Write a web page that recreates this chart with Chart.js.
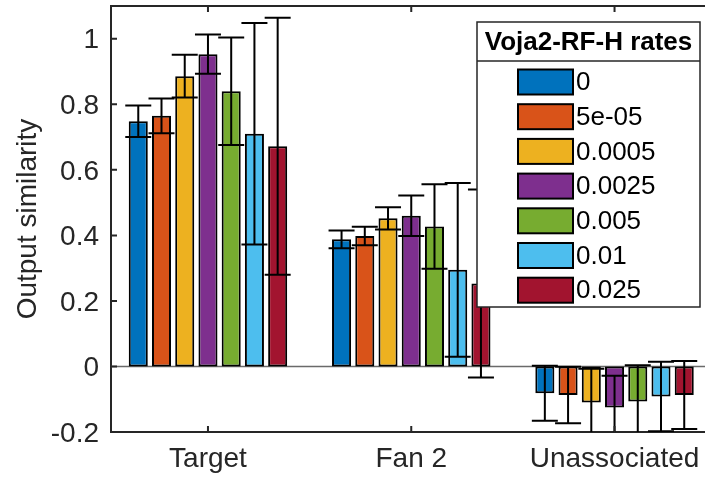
<!DOCTYPE html>
<html>
<head>
<meta charset="utf-8">
<script src="https://cdn.jsdelivr.net/npm/chart.js@4.4.0/dist/chart.umd.min.js"></script>
<style>
    html, body { margin: 0; padding: 0; background: #fff; overflow: hidden; }
    canvas { display: block; }
</style>
</head>
<body>
<canvas id="myChart" width="705" height="477"></canvas>
<script>
// groups on the x axis
const categories = ['Target', 'Fan 2', 'Unassociated'];

// Voja2-RF-H learning rates (one bar per rate inside each group)
const rates = ['0', '5e-05', '0.0005', '0.0025', '0.005', '0.01', '0.025'];
const rateColors = ['#0072BD', '#D95319', '#EDB120', '#7E2F8E', '#77AC30', '#4DBEEE', '#A2142F'];

// mean output similarity, ordered by rate
const targetMean   = [0.748, 0.765, 0.886, 0.953, 0.840, 0.710, 0.672];
const fan2Mean     = [0.388, 0.398, 0.452, 0.460, 0.427, 0.295, 0.253];
const unassocMean  = [-0.082, -0.087, -0.110, -0.125, -0.107, -0.092, -0.087];

// half length of the error bars, ordered by rate
const targetErr    = [0.048, 0.053, 0.065, 0.060, 0.164, 0.338, 0.392];
const fan2Err      = [0.027, 0.028, 0.034, 0.062, 0.129, 0.265, 0.287];
const unassocErr   = [0.084, 0.086, 0.103, 0.097, 0.111, 0.106, 0.104];

const yTicks = [-0.2, 0, 0.2, 0.4, 0.6, 0.8, 1];

const FONT = '"Liberation Sans", Arial, Helvetica, sans-serif';
const INK = '#262626';

// one dataset per rate
const datasets = rates.map((rate, i) => ({
    label: rate,
    data: [targetMean[i], fan2Mean[i], unassocMean[i]].map((v, k) => ({ x: k + 1, y: v })),
    errors: [targetErr[i], fan2Err[i], unassocErr[i]],
    backgroundColor: rateColors[i],
    borderColor: '#000',
    borderWidth: 2,
    borderSkipped: false,
    barPercentage: 0.82,
    categoryPercentage: 0.8
}));

// baseline at zero, error bars, inward ticks and top spine
const axesDecor = {
    id: 'axesDecor',
    beforeDatasetsDraw(chart) {
        const { ctx, chartArea: a, scales: { y } } = chart;
        const y0 = y.getPixelForValue(0);
        ctx.save();
        ctx.strokeStyle = '#6a6a6a';
        ctx.lineWidth = 1.5;
        ctx.beginPath();
        ctx.moveTo(a.left, y0);
        ctx.lineTo(a.right, y0);
        ctx.stroke();
        ctx.restore();
    },
    afterDatasetsDraw(chart) {
        const { ctx, chartArea: a, scales: { x, y } } = chart;
        ctx.save();
        ctx.beginPath();
        ctx.rect(a.left, a.top, a.right - a.left, a.bottom - a.top);
        ctx.clip();
        ctx.strokeStyle = '#000';
        ctx.lineWidth = 2;
        chart.data.datasets.forEach((ds, i) => {
            chart.getDatasetMeta(i).data.forEach((bar, k) => {
                const v = ds.data[k].y, e = ds.errors[k];
                const hi = y.getPixelForValue(v + e);
                const lo = y.getPixelForValue(v - e);
                ctx.beginPath();
                ctx.moveTo(bar.x, hi); ctx.lineTo(bar.x, lo);
                ctx.moveTo(bar.x - 13, hi); ctx.lineTo(bar.x + 13, hi);
                ctx.moveTo(bar.x - 13, lo); ctx.lineTo(bar.x + 13, lo);
                ctx.stroke();
            });
        });
        ctx.restore();

        ctx.save();
        ctx.strokeStyle = INK;
        ctx.lineWidth = 2;
        ctx.beginPath();
        ctx.moveTo(a.left, a.top);
        ctx.lineTo(a.right, a.top);
        yTicks.forEach(v => {
            const py = y.getPixelForValue(v);
            ctx.moveTo(a.left, py);
            ctx.lineTo(a.left + 6, py);
        });
        categories.forEach((c, k) => {
            const px = x.getPixelForValue(k + 1);
            ctx.moveTo(px, a.bottom); ctx.lineTo(px, a.bottom - 6);
            ctx.moveTo(px, a.top); ctx.lineTo(px, a.top + 6);
        });
        ctx.stroke();
        ctx.restore();
    }
};

// boxed legend with title, drawn over the plot
const boxLegend = {
    id: 'boxLegend',
    afterDraw(chart) {
        const ctx = chart.ctx;
        const bx = 477, by = 22, bw = 223, bh = 285, titleH = 39;
        ctx.save();
        ctx.fillStyle = '#fff';
        ctx.fillRect(bx, by, bw, bh);
        ctx.strokeStyle = INK;
        ctx.lineWidth = 1.5;
        ctx.strokeRect(bx, by, bw, bh);
        ctx.beginPath();
        ctx.moveTo(bx, by + titleH);
        ctx.lineTo(bx + bw, by + titleH);
        ctx.stroke();

        ctx.fillStyle = '#000';
        ctx.textBaseline = 'middle';
        ctx.textAlign = 'center';
        ctx.font = 'bold 26px ' + FONT;
        ctx.fillText('Voja2-RF-H rates', bx + bw / 2, by + titleH / 2 + 1);

        ctx.textAlign = 'left';
        ctx.font = '26px ' + FONT;
        chart.data.datasets.forEach((ds, i) => {
            const cy = by + 60 + i * 34.7;
            ctx.fillStyle = ds.backgroundColor;
            ctx.fillRect(518, cy - 12.5, 55, 25);
            ctx.strokeStyle = '#000';
            ctx.lineWidth = 2;
            ctx.strokeRect(518, cy - 12.5, 55, 25);
            ctx.fillStyle = '#000';
            ctx.fillText(ds.label, 576, cy + 1);
        });
        ctx.restore();
    }
};

// keep the plot box fixed, no extra room for edge labels
const noEdgePadding = scale => {
    scale.paddingTop = 0;
    scale.paddingBottom = 0;
    scale.paddingLeft = 0;
    scale.paddingRight = 0;
};

const config = {
    type: 'bar',
    data: { datasets },
    options: {
        responsive: false,
        animation: false,
        devicePixelRatio: 1,
        layout: { padding: { top: 6, right: 0, left: 0, bottom: 0 } },
        plugins: {
            legend: { display: false },
            tooltip: { enabled: false }
        },
        scales: {
            x: {
                type: 'linear',
                min: 0.523,
                max: 3.445,
                offset: false,
                grid: { display: false, drawTicks: false, offset: false },
                border: { display: true, color: INK, width: 2 },
                afterBuildTicks: scale => { scale.ticks = categories.map((c, k) => ({ value: k + 1 })); },
                afterFit: scale => { scale.height = 45; noEdgePadding(scale); },
                ticks: {
                    autoSkip: false,
                    maxRotation: 0,
                    padding: 10,
                    color: INK,
                    font: { family: FONT, size: 28 },
                    callback: v => categories[v - 1]
                }
            },
            y: {
                min: -0.2,
                max: 1.1,
                grid: { display: false, drawTicks: false },
                border: { display: true, color: INK, width: 2 },
                afterBuildTicks: scale => { scale.ticks = yTicks.map(v => ({ value: v })); },
                afterFit: scale => { scale.width = 111; noEdgePadding(scale); },
                ticks: {
                    padding: 12,
                    labelOffset: 2,
                    color: INK,
                    font: { family: FONT, size: 28 },
                    callback: v => String(Math.round(v * 10) / 10)
                },
                title: {
                    display: true,
                    text: 'Output similarity',
                    color: INK,
                    font: { family: FONT, size: 28 },
                    padding: { top: 11, bottom: 0 }
                }
            }
        }
    },
    plugins: [axesDecor, boxLegend]
};

const mychart = new Chart(document.getElementById('myChart'), config);
</script>
</body>
</html>
